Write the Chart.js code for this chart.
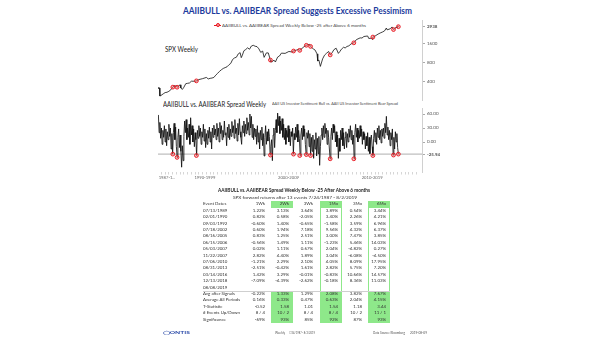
<!DOCTYPE html>
<html>
<head>
<meta charset="utf-8">
<script src="https://cdn.jsdelivr.net/npm/chart.js@4.4.1/dist/chart.umd.min.js"></script>
<style>
  body { margin:0; width:605px; height:341px; background:#fff; position:relative; overflow:hidden; font-family: Lato, "Open Sans", sans-serif; color:#222; }
  canvas { position:absolute; left:0; }
  .txt { position:absolute; white-space:nowrap; transform-origin:left center; }
  .cell { position:absolute; white-space:nowrap; text-align:right; }
  .lbl { text-align:left; }
</style>
</head>
<body>

<div class="txt" id="title" style="left:183px;top:6px;font-size:9px;line-height:10px;font-weight:bold;color:#1c3b9c">AAIIBULL vs. AAIIBEAR Spread Suggests Excessive Pessimism</div>
<div class="txt" id="legend" style="left:222px;top:22.5px;font-size:4.4px;line-height:5px;color:#444">AAIIBULL vs. AAIIBEAR Spread Weekly Below -25 after Above 6 months</div>
<div style="position:absolute;left:214px;top:24.6px;width:7px;height:0.8px;background:#e8141e"></div>
<div style="position:absolute;left:216.3px;top:23.4px;width:2px;height:2px;border:0.7px solid #e8141e;border-radius:50%;background:#f7a0a0"></div>
<div class="txt" id="spxLabel" style="left:165px;top:45px;font-size:7px;line-height:8px">SPX Weekly</div>
<div class="txt" id="spreadLabel" style="left:163px;top:100px;font-size:7px;line-height:8px">AAIIBULL vs. AAIIBEAR Spread Weekly</div>
<div class="txt" id="spreadSub" style="left:272px;top:102px;font-size:3.6px;line-height:4px;color:#444">AAII US Investor Sentiment Bull vs. AAII US Investor Sentiment Bear Spread</div>

<canvas id="chart-spx" width="605" height="110" style="top:0"></canvas>
<canvas id="chart-spread" width="605" height="90" style="top:100px"></canvas>

<div class="txt" id="tblTitle" style="left:218px;top:187px;font-size:5.5px;line-height:6px;font-weight:bold">AAIIBULL vs. AAIIBEAR Spread Weekly Below -25 After Above 6 months</div>
<div class="txt" id="tblSub" style="left:233px;top:194.5px;font-size:4.6px;line-height:5px;color:#333">SPX forward returns after 13 events 7/24/1987 - 8/2/2019</div>
<div id="tbl"></div>

<div class="txt" id="logo" style="left:163px;top:330px;font-size:4px;line-height:5px;color:#2a4aa8;font-weight:bold">&#9711;ONTIS</div>
<div class="txt" id="footMid1" style="left:275px;top:331px;font-size:3.2px;line-height:4px;color:#555">Weekly</div>
<div class="txt" id="footMid2" style="left:289px;top:331px;font-size:3.2px;line-height:4px;color:#555">7/24/1987 - 8/2/2019</div>
<div class="txt" id="footR1" style="left:373px;top:331px;font-size:3.2px;line-height:4px;color:#555">Data Source: Bloomberg</div>
<div class="txt" id="footR2" style="left:410px;top:331px;font-size:3.2px;line-height:4px;color:#555">2019-08-09</div>

<script>
//******** Data */

// x range shared by both panels (decimal years)
const xMin = 1987.55
const xMax = 2022.75

// SPX weekly close, sampled
const spxYears = [1987.55, 1987.65, 1987.75, 1987.80, 1987.95, 1988.25, 1988.5, 1988.75, 1989.0, 1989.25, 1989.5, 1989.75,
  1990.0, 1990.5, 1990.6, 1990.8, 1991.0, 1991.25, 1991.5, 1991.75, 1992.0, 1992.5, 1992.75, 1993.0, 1993.5, 1994.0,
  1994.25, 1994.5, 1994.75, 1995.0, 1995.25, 1995.5, 1995.75, 1996.0, 1996.25, 1996.5, 1996.75, 1997.0, 1997.25, 1997.5,
  1997.75, 1998.0, 1998.25, 1998.5, 1998.65, 1998.8, 1999.0, 1999.25, 1999.5, 1999.75, 2000.0, 2000.25, 2000.5, 2000.75,
  2001.0, 2001.25, 2001.5, 2001.7, 2002.0, 2002.25, 2002.6, 2002.8, 2003.0, 2003.2, 2003.5, 2003.75, 2004.0, 2004.5,
  2005.0, 2005.4, 2006.0, 2006.3, 2007.0, 2007.5, 2007.75, 2008.0, 2008.25, 2008.5, 2008.75, 2008.85, 2009.0, 2009.2,
  2009.5, 2009.75, 2010.0, 2010.3, 2010.75, 2011.0, 2011.3, 2011.6, 2011.8, 2012.0, 2012.3, 2012.5, 2012.75, 2013.0,
  2013.3, 2014.0, 2014.5, 2014.75, 2015.0, 2015.5, 2015.65, 2016.0, 2016.1, 2016.5, 2016.9, 2017.25, 2017.5, 2017.75,
  2018.0, 2018.1, 2018.5, 2018.75, 2019.1, 2019.3, 2019.4, 2019.55]
const spxValues = [315, 330, 320, 240, 245, 260, 272, 275, 285, 300, 330, 350,
  340, 360, 320, 305, 330, 375, 380, 385, 410, 410, 418, 435, 450, 470,
  445, 455, 460, 470, 510, 545, 585, 620, 650, 670, 690, 740, 780, 900,
  950, 975, 1100, 1150, 960, 1050, 1230, 1290, 1370, 1300, 1460, 1500, 1450, 1430,
  1320, 1160, 1220, 970, 1140, 1140, 820, 830, 880, 820, 980, 1020, 1130, 1120,
  1200, 1180, 1260, 1300, 1420, 1530, 1550, 1400, 1320, 1260, 1100, 850, 880, 700,
  920, 1050, 1120, 1200, 1140, 1280, 1350, 1120, 1200, 1300, 1400, 1360, 1440, 1470,
  1580, 1840, 1960, 1950, 2060, 2100, 1920, 1940, 1860, 2100, 2250, 2360, 2430, 2520,
  2800, 2620, 2720, 2910, 2700, 2900, 2800, 3020]
const spxTicks = [400, 800, 1600]
const spxLast = 2938

// AAII bull minus bear spread, one value every 0.1 year from 1987.6
const spreadStart = 1987.6
const spreadStep = 0.1
const spreadValues = [
  58, 20, 42, 8, 30, -5, 25, 10, 35, 0,
  28, -8, 22, 5, 38, 12, 30, -15, 18, -26,
  20, 40, 5, 32, -10, -33, 10, 28, -12, 15,
  -20, -54, -8, -40, 12, 45, 20, 48, 5, 30,
  10, 38, -5, 52, 15, 35, 0, 28, -10, 20,
  5, -29, 25, 8, 35, 12, 30, -5, 22, 10,
  38, 2, 28, -12, 18, -5, 25, 8, 32, 0,
  22, -15, 30, 10, 36, 15, 28, 5, 40, 12,
  30, 0, 42, 18, 35, 5, 25, 10, 45, 15,
  20, -8, 32, 10, 38, 5, 28, 12, 44, 20,
  35, 8, 48, 18, 30, 2, 40, 15, 50, 22,
  10, -5, 35, 20, 45, 12, 38, 18, 52, 25,
  42, 15, 60, 30, 55, 10, 38, 5, 30, 12,
  28, -5, 35, 0, 20, -15, 25, 5, 32, -8,
  18, -30, 10, 35, -5, 22, 2, 28, 12, -28,
  -10, 5, -40, 15, 30, -12, 25, 48, 20, 62,
  35, 55, 18, 45, 25, 50, 10, 38, 5, 30,
  -5, 25, 10, 35, 0, 28, -8, 22, 12, 30,
  -26, 18, 5, 32, 10, 38, 0, 25, 8, -29,
  15, 30, 5, 35, 12, 28, -5, -27, 20, 8,
  25, -10, 18, -29, 10, -20, 15, -35, 5, -15,
  20, -30, 8, -25, 12, -50, -10, 15, 30, 5,
  35, 10, 40, 18, 30, -5, 25, 10, -15, -36,
  12, 30, 5, 38, 20, 35, 0, 22, -10, 15,
  -35, 8, -20, 25, 5, 30, -8, 20, -15, 10,
  22, -12, 18, 0, 28, 10, 35, 5, 25, -5,
  15, -36, 20, 38, 10, 30, 0, 25, 8, 35,
  12, 28, -5, 22, 5, 18, -15, 12, -8, 20,
  -20, 10, -25, 5, 15, -10, -29, 8, 25, 0,
  20, -5, 30, 10, 35, 5, 25, -2, 28, 12,
  30, 8, 40, 20, 55, 15, 32, 5, 25, -8,
  20, 5, 28, -28, 10, -15, 22, 0, 18, -12,
  -25.94]
const spreadTicks = [60, 30, 0]
const spreadLast = -25.94

// signal weeks
const eventDates = ['07/13/1989', '02/01/1990', '09/03/1992', '07/18/2002', '08/16/2005', '06/15/2006', '05/03/2007',
  '11/22/2007', '07/06/2010', '08/31/2013', '03/14/2016', '12/13/2018', '08/08/2019']
const eventYears = [1989.53, 1990.09, 1992.67, 2002.54, 2005.62, 2006.45, 2007.33, 2007.89, 2010.51, 2013.66, 2016.20, 2018.95, 2019.60]
const eventSpread = [-26, -33, -29, -28, -26, -29, -27, -29, -36, -36, -29, -28, -25.94]
const eventSpx = [331, 330, 415, 880, 1220, 1250, 1500, 1440, 1060, 1640, 2020, 2650, 2938]

// decade labels on the time axis
const decadeLabels = ['1987-1...', '1990-1999', '2000-2009', '2010-2019']
const decadePos = [1988.75, 1993.8, 2004.95, 2016.1]

// forward returns table
const retHeaders = ['Event Dates', '1Wk', '2Wk', '3Wk', '1Mo', '3Mo', '6Mo']
const ret1Wk = ['1.22%', '0.82%', '-0.60%', '0.60%', '0.83%', '-0.56%', '0.02%', '2.82%', '-1.21%', '-2.51%', '1.42%', '-7.09%', '']
const ret2Wk = ['3.13%', '0.58%', '1.40%', '1.94%', '1.25%', '1.49%', '1.11%', '4.40%', '2.29%', '-0.42%', '3.29%', '-4.39%', '']
const ret3Wk = ['3.64%', '-2.05%', '-0.65%', '7.18%', '2.51%', '1.11%', '0.67%', '1.89%', '2.10%', '1.61%', '-0.01%', '-2.62%', '']
const ret1Mo = ['3.89%', '3.40%', '-1.58%', '9.56%', '3.00%', '-1.23%', '2.04%', '3.04%', '4.05%', '2.82%', '-0.83%', '-0.18%', '']
const ret3Mo = ['0.54%', '2.26%', '3.59%', '4.32%', '7.47%', '5.46%', '-4.82%', '-6.08%', '8.09%', '5.75%', '10.66%', '8.36%', '']
const ret6Mo = ['3.44%', '4.21%', '6.96%', '6.37%', '3.85%', '14.03%', '0.27%', '-4.50%', '17.95%', '7.20%', '14.57%', '11.03%', '']
const statLabels = ['Avg after Signals', 'Average All Periods', 'T-Statistic', '# Events Up/Down', 'Significance']
const statRows = [
  ['-0.22%', '1.33%', '1.29%', '2.08%', '3.82%', '7.67%'],
  ['0.16%', '0.33%', '0.47%', '0.63%', '2.04%', '4.15%'],
  ['-0.52', '1.58', '1.01', '1.54', '1.18', '3.44'],
  ['8 / 4', '10 / 2', '8 / 4', '8 / 4', '10 / 2', '11 / 1'],
  ['-69%', '93%', '85%', '92%', '87%', '93%']]
const greenCols = [1, 3, 5]   // 2Wk, 1Mo, 6Mo
const boxedCols = [3, 5]      // 1Mo, 6Mo outlined down the event rows


//******** Charts */
Chart.defaults.font.family = 'Lato, "Open Sans", sans-serif'

const markerStyle = {
  type: 'line',
  showLine: false,
  pointRadius: 1.9,
  pointBorderWidth: 0.9,
  pointBorderColor: '#e8141e',
  pointBackgroundColor: 'rgba(245,120,120,0.5)',
  order: 0
}

function fixedWidth(w) { return s => { s.width = w } }

// -- SPX panel
let spxPoints = spxYears.map((x, i) => ({ x: x, y: spxValues[i] }))
eventYears.forEach((x, i) => spxPoints.push({ x: x, y: eventSpx[i] }))
spxPoints.sort((a, b) => a.x - b.x)

new Chart(document.getElementById('chart-spx').getContext('2d'), {
  type: 'line',
  data: {
    datasets: [
      { data: spxPoints, borderColor: '#111', borderWidth: 0.8, pointRadius: 0, tension: 0, order: 1 },
      Object.assign({ data: eventYears.map((x, i) => ({ x: x, y: eventSpx[i] })) }, markerStyle)
    ]
  },
  options: {
    responsive: false,
    animation: false,
    layout: { padding: { left: 158, top: 20, bottom: 10, right: 151 } },
    plugins: { legend: { display: false }, tooltip: { enabled: false } },
    scales: {
      x: { type: 'linear', min: xMin, max: xMax, display: false },
      y: {
        type: 'logarithmic', position: 'right', min: 208, max: 3740,
        afterBuildTicks: s => { s.ticks = spxTicks.concat([spxLast]).map(v => ({ value: v })) },
        afterFit: fixedWidth(32),
        ticks: {
          autoSkip: false, padding: 2, color: '#555',
          callback: v => String(v),
          font: ctx => ({ size: 4.5, weight: ctx.tick && ctx.tick.value === spxLast ? 'bold' : 'normal' })
        },
        grid: { drawOnChartArea: false, tickLength: 3, color: '#aaa' },
        border: { display: true, color: '#d0d0d0' }
      }
    }
  }
})

// -- Spread panel
const spreadPoints = spreadValues.map((v, i) => ({ x: spreadStart + i * spreadStep, y: v }))

new Chart(document.getElementById('chart-spread').getContext('2d'), {
  type: 'line',
  data: {
    datasets: [
      { data: spreadPoints, borderColor: '#111', borderWidth: 0.85, pointRadius: 0, tension: 0, order: 1 },
      { data: [{ x: xMin, y: spreadLast }, { x: xMax, y: spreadLast }], borderColor: '#9a9a9a', borderWidth: 0.8, pointRadius: 0, order: 2 },
      Object.assign({ data: eventYears.map((x, i) => ({ x: x, y: eventSpread[i] })) }, markerStyle)
    ]
  },
  options: {
    responsive: false,
    animation: false,
    layout: { padding: { left: 158, top: 8, bottom: 6, right: 151 } },
    plugins: { legend: { display: false }, tooltip: { enabled: false } },
    scales: {
      x: {
        type: 'linear', min: xMin, max: xMax,
        afterBuildTicks: s => {
          let t = []
          for (let y = 1988; y <= 2022; y += 0.5) t.push({ value: y })
          decadePos.forEach(p => t.push({ value: p }))
          s.ticks = t
        },
        afterFit: s => { s.height = 12 },
        ticks: {
          autoSkip: false, maxRotation: 0, padding: 1, color: '#666',
          font: { size: 4.2 },
          callback: v => { let k = decadePos.indexOf(v); return k >= 0 ? decadeLabels[k] : '' }
        },
        grid: {
          drawOnChartArea: false, tickLength: 2.5, lineWidth: 0.6,
          color: ctx => (ctx.tick && decadePos.indexOf(ctx.tick.value) >= 0) ? 'rgba(0,0,0,0)' : '#bbb'
        },
        border: { display: false }
      },
      y: {
        type: 'linear', position: 'right', min: -64.3, max: 72.9,
        afterBuildTicks: s => { s.ticks = spreadTicks.concat([spreadLast]).map(v => ({ value: v })) },
        afterFit: fixedWidth(32),
        ticks: {
          autoSkip: false, padding: 2, color: '#555',
          callback: v => v.toFixed(2),
          font: ctx => ({ size: 4.5, weight: ctx.tick && ctx.tick.value === spreadLast ? 'bold' : 'normal' })
        },
        grid: { drawOnChartArea: false, tickLength: 3, color: '#aaa' },
        border: { display: true, color: '#d0d0d0' }
      }
    }
  }
})


//******** Table */
const tbl = document.getElementById('tbl')
const rowTop = 201.3
const rowH = 6.4
const colRight = [265, 289, 313, 338, 362, 386]
const labelLeft = 203
const cellFont = 'font-size:4.4px;line-height:' + rowH + 'px;color:#333'

function box(left, top, w, h, style) {
  let d = document.createElement('div')
  d.style.cssText = 'position:absolute;left:' + left + 'px;top:' + top + 'px;width:' + w + 'px;height:' + h + 'px;' + style
  tbl.appendChild(d)
}
function cell(text, r, c) {
  let d = document.createElement('div')
  d.textContent = text
  if (c < 0) {
    d.className = 'cell lbl'
    d.style.cssText += 'left:' + labelLeft + 'px;top:' + (rowTop + r * rowH) + 'px;' + cellFont
  } else {
    d.className = 'cell'
    d.style.cssText += 'left:' + (colRight[c] - 30) + 'px;width:30px;top:' + (rowTop + r * rowH) + 'px;' + cellFont
  }
  tbl.appendChild(d)
}

const nEvents = eventDates.length
const statTop = rowTop + (nEvents + 1) * rowH
// green header cells, outlined columns and filled summary block
greenCols.forEach(c => {
  box(colRight[c] - 18, rowTop, 22, rowH, 'background:#8ee88a')
  box(colRight[c] - 18, statTop, 22, statLabels.length * rowH, 'background:#8ee88a')
})
boxedCols.forEach(c => {
  box(colRight[c] - 18, rowTop + rowH, 22, nEvents * rowH, 'box-sizing:border-box;border-left:0.8px solid #8ee88a;border-right:0.8px solid #8ee88a')
})
box(labelLeft, statTop, colRight[5] + 4 - labelLeft, 0.5, 'background:#cfcfcf')

// header
cell(retHeaders[0], 0, -1)
for (let c = 1; c < retHeaders.length; c++) cell(retHeaders[c], 0, c - 1)
// event rows
const retCols = [ret1Wk, ret2Wk, ret3Wk, ret1Mo, ret3Mo, ret6Mo]
eventDates.forEach((d, i) => {
  cell(d, i + 1, -1)
  retCols.forEach((col, c) => cell(col[i], i + 1, c))
})
// summary rows
statLabels.forEach((l, k) => {
  cell(l, nEvents + 1 + k, -1)
  statRows[k].forEach((v, c) => cell(v, nEvents + 1 + k, c))
})


//******** Fit text widths */
function fitText(id, w) {
  let el = document.getElementById(id)
  el.style.transform = 'scaleX(' + (w / el.getBoundingClientRect().width) + ')'
}
fitText('title', 229)
fitText('legend', 144)
fitText('spxLabel', 33)
fitText('spreadLabel', 103)
fitText('spreadSub', 126)
fitText('tblTitle', 152)
fitText('tblSub', 124)
fitText('logo', 27)
fitText('footMid1', 10)
fitText('footMid2', 26)
fitText('footR1', 32)
fitText('footR2', 17)
</script>
</body>
</html>
